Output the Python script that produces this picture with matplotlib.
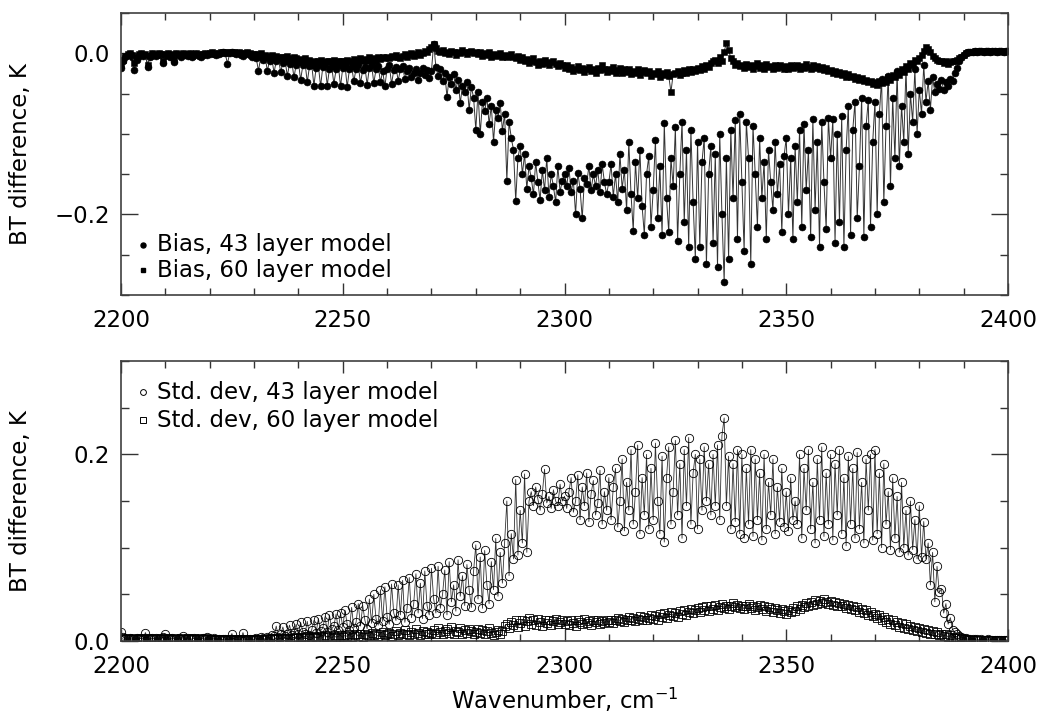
import numpy as np
import matplotlib
matplotlib.use('Agg')
import matplotlib.pyplot as plt
from matplotlib.ticker import MultipleLocator, FuncFormatter

plt.rcParams['font.family'] = ['DejaVu Sans']
plt.rcParams['font.size'] = 16.5

# channel grid, 0.5 cm-1 spacing
wn = np.arange(2200, 2400.25, 0.5)

# BT bias, mK (one row per 10 cm-1)
bias43_mk = [
    -18, -10, -5, -2, -1, -4, -21, -8, -3, -1, -3, -2, -17, -5, -1, -2, -3, -1, -2, -12,
    -3, -1, -4, -2, -11, -1, -2, -4, -1, -2, -3, -1, -5, -2, -1, -3, -4, -2, -1, -2,
    -1, 0, -1, -2, -1, 0, 1, 0, -13, 0, 1, 0, -1, 0, -2, -3, -1, 0, -2, -4,
    -3, -6, -22, -5, -8, -4, -22, -9, -6, -24, -10, -7, -23, -12, -9, -28, -13, -10, -30, -14,
    -11, -33, -15, -12, -36, -16, -14, -40, -18, -15, -41, -17, -13, -40, -19, -16, -38, -20, -15, -41,
    -18, -14, -42, -20, -16, -35, -19, -15, -37, -21, -17, -39, -18, -14, -37, -20, -16, -36, -22, -41,
    -19, -15, -38, -21, -17, -34, -20, -16, -32, -22, -18, -29, -25, -20, -33, -24, -18, -27, -21, -31,
    -22, 12, -17, -28, -20, -35, -25, -54, -30, -38, -26, -45, -33, -62, -40, -48, -36, -70, -42, -55,
    -95, -48, -100, -60, -72, -55, -88, -65, -110, -70, -80, -62, -96, -75, -158, -85, -105, -120, -183, -130,
    -115, -150, -125, -168, -140, -155, -175, -135, -160, -182, -145, -170, -130, -178, -150, -165, -185, -140, -172, -158,
    -150, -165, -142, -172, -158, -200, -148, -168, -205, -155, -162, -140, -170, -150, -165, -145, -172, -138, -160, -175,
    -160, -138, -178, -150, -185, -125, -168, -145, -195, -110, -175, -220, -135, -180, -120, -190, -225, -150, -128, -215,
    -170, -108, -205, -140, -225, -87, -180, -222, -130, -165, -92, -233, -150, -85, -210, -120, -240, -95, -185, -255,
    -110, -240, -135, -105, -262, -150, -115, -235, -125, -265, -100, -200, -284, -130, -255, -95, -180, -83, -230, -75,
    -160, -245, -85, -130, -262, -90, -150, -215, -105, -180, -135, -230, -120, -160, -195, -110, -175, -138, -222, -128,
    -105, -200, -130, -230, -115, -185, -95, -215, -88, -170, -120, -228, -82, -195, -110, -240, -85, -160, -218, -80,
    -130, -82, -235, -100, -210, -78, -240, -120, -65, -225, -95, -60, -205, -140, -55, -228, -90, -58, -215, -110,
    -60, -200, -75, -32, -185, -90, -28, -165, -55, -130, -22, -140, -65, -110, -18, -125, -50, -85, -20, -100,
    -45, -75, -15, -60, -35, -70, -30, -48, -38, -44, -33, -46, -36, -40, -32, -35, -25, -18, -10, -5,
    -2, 0, 1, 2, 2, 3, 2, 3, 3, 2, 3, 3, 2, 3, 3, 2, 3, 3, 2, 3,
    3]

bias60_mk = [
    -15, -8, -3, -1, 0, -2, -12, -4, -1, 0, -2, -1, -14, -3, 0, -1, -2, 0, -1, -9,
    -1, 0, -2, -1, -8, 0, -1, -2, 0, -1, -1, 0, -3, -1, 0, -1, -2, -1, 0, -1,
    0, 1, 0, -1, 0, 1, 2, 1, 0, 1, 2, 1, 0, 1, 0, -1, 0, 1, 0, -1,
    -1, -2, -1, 0, -3, -2, -4, -3, -2, -5, -3, -4, -6, -4, -5, -3, -6, -7, -5, -6,
    -8, -7, -9, -6, -10, -8, -11, -9, -12, -10, -8, -11, -13, -9, -10, -12, -8, -11, -10, -9,
    -10, -12, -8, -9, -11, -7, -10, -8, -6, -9, -7, -10, -5, -8, -6, -9, -4, -7, -5, -6,
    -4, -6, -3, -5, -2, -4, -6, -3, -1, -4, -2, 0, -3, -1, 2, -2, 0, 3, 1, 5,
    8, 12, 6, 3, 1, 4, 0, 2, -1, 3, 1, -2, 2, 0, 4, 1, -1, 2, 3, 0,
    2, -1, 1, -3, 0, -2, 1, -4, -1, -3, -2, 0, -4, -2, -5, -3, -1, -4, -6, -3,
    -8, -5, -10, -7, -12, -9, -6, -11, -14, -10, -13, -8, -12, -15, -11, -9, -13, -16, -12, -14,
    -18, -15, -20, -17, -22, -19, -16, -21, -18, -23, -20, -17, -22, -19, -24, -18, -21, -15, -20, -23,
    -19, -22, -17, -24, -21, -18, -25, -20, -23, -19, -26, -22, -24, -20, -27, -23, -21, -25, -22, -28,
    -24, -26, -22, -29, -25, -27, -23, -28, -48, -26, -24, -22, -27, -25, -21, -24, -20, -23, -19, -22,
    -18, -21, -16, -19, -14, -17, -12, -10, -8, -12, -5, -9, 2, 13, 4, -6, -10, -14, -12, -16,
    -15, -18, -13, -17, -14, -19, -16, -12, -18, -15, -20, -13, -17, -16, -19, -14, -18, -15, -17, -20,
    -16, -19, -14, -18, -17, -15, -20, -16, -18, -13, -17, -19, -15, -18, -16, -20, -17, -21, -18, -22,
    -21, -24, -22, -26, -23, -27, -25, -29, -26, -30, -28, -32, -29, -33, -31, -35, -33, -36, -34, -38,
    -36, -39, -35, -37, -33, -36, -30, -33, -27, -30, -24, -27, -20, -23, -16, -19, -12, -14, -8, -10,
    -6, -2, 3, 8, 5, 1, -3, -6, -8, -10, -9, -12, -10, -13, -11, -9, -10, -8, -6, -4,
    -2, 0, 1, 2, 2, 3, 2, 3, 3, 2, 3, 3, 2, 3, 3, 2, 3, 3, 2, 3,
    3]

# BT standard deviation, mK
std43_mk = [
    10, 4, 3, 2, 3, 2, 2, 3, 2, 3, 2, 9, 3, 2, 3, 2, 3, 2, 3, 4,
    7, 3, 2, 3, 2, 2, 3, 2, 5, 2, 3, 2, 2, 3, 2, 2, 2, 3, 2, 4,
    2, 2, 3, 2, 2, 1, 2, 2, 1, 2, 8, 1, 2, 1, 1, 9, 1, 2, 2, 1,
    2, 3, 2, 4, 3, 2, 4, 3, 6, 5, 16, 4, 7, 15, 5, 8, 17, 6, 9, 18,
    7, 20, 10, 8, 21, 6, 12, 22, 9, 24, 11, 14, 26, 10, 28, 13, 16, 29, 12, 30,
    15, 33, 18, 12, 36, 14, 20, 40, 16, 38, 22, 13, 45, 19, 50, 24, 17, 55, 21, 58,
    26, 18, 61, 30, 22, 60, 28, 65, 20, 35, 68, 25, 40, 72, 30, 62, 24, 75, 38, 28,
    78, 45, 30, 80, 35, 50, 76, 28, 85, 42, 60, 32, 87, 48, 70, 38, 82, 55, 36, 75,
    103, 45, 90, 35, 97, 60, 40, 85, 55, 110, 48, 95, 62, 105, 150, 70, 115, 88, 173, 92,
    140, 105, 179, 95, 150, 160, 145, 165, 152, 140, 158, 184, 148, 155, 142, 162, 150, 145, 168, 150,
    155, 142, 160, 175, 138, 150, 178, 130, 165, 145, 180, 128, 158, 172, 135, 148, 183, 125, 160, 140,
    175, 130, 165, 185, 122, 150, 195, 118, 170, 140, 205, 125, 160, 210, 115, 175, 135, 200, 120, 185,
    130, 212, 150, 115, 198, 106, 175, 208, 125, 160, 215, 135, 190, 110, 205, 145, 218, 125, 180, 200,
    120, 195, 140, 208, 150, 190, 135, 200, 145, 210, 130, 220, 239, 145, 198, 120, 190, 128, 205, 115,
    200, 110, 185, 125, 205, 112, 195, 130, 180, 108, 200, 120, 170, 135, 195, 115, 165, 128, 185, 122,
    160, 118, 175, 130, 150, 125, 200, 110, 185, 140, 205, 120, 170, 105, 195, 130, 208, 112, 180, 125,
    200, 108, 190, 135, 205, 115, 175, 102, 198, 125, 185, 110, 202, 120, 170, 105, 195, 140, 200, 108,
    205, 115, 180, 100, 190, 125, 160, 98, 175, 110, 155, 95, 170, 100, 140, 92, 150, 98, 130, 88,
    145, 90, 128, 88, 105, 60, 95, 42, 80, 52, 56, 30, 40, 18, 25, 12, 10, 7, 5, 4,
    3, 3, 2, 2, 2, 2, 2, 1, 2, 1, 1, 2, 1, 1, 1, 1, 1, 1, 1, 1,
    1]

std60_mk = [
    3, 2, 2, 3, 2, 2, 3, 2, 2, 3, 2, 2, 3, 2, 2, 3, 2, 2, 3, 2,
    2, 3, 2, 2, 3, 2, 2, 3, 2, 2, 3, 2, 2, 3, 2, 2, 3, 2, 2, 3,
    2, 2, 1, 2, 2, 1, 2, 1, 2, 2, 1, 2, 1, 2, 2, 1, 2, 1, 2, 1,
    2, 1, 2, 2, 1, 2, 2, 3, 2, 2, 3, 2, 3, 2, 3, 3, 2, 3, 3, 4,
    3, 4, 3, 4, 5, 3, 4, 5, 4, 3, 5, 4, 6, 4, 5, 3, 6, 4, 5, 6,
    4, 6, 5, 7, 4, 6, 8, 5, 7, 4, 8, 6, 5, 9, 6, 7, 5, 8, 10, 6,
    7, 9, 5, 8, 11, 6, 9, 7, 12, 8, 6, 10, 7, 13, 9, 6, 11, 8, 10, 7,
    9, 12, 8, 14, 10, 7, 11, 13, 9, 15, 8, 11, 10, 14, 7, 12, 9, 13, 11, 8,
    10, 13, 9, 12, 8, 11, 14, 9, 6, 10, 12, 8, 11, 16, 18, 14, 20, 17, 22, 15,
    19, 23, 16, 21, 25, 18, 22, 17, 24, 20, 16, 22, 19, 23, 17, 21, 24, 18, 20, 22,
    18, 21, 17, 23, 19, 16, 22, 20, 18, 24, 19, 21, 17, 22, 20, 23, 18, 21, 19, 22,
    20, 23, 19, 22, 25, 21, 24, 20, 23, 26, 22, 25, 21, 24, 27, 23, 26, 22, 25, 28,
    24, 27, 23, 29, 26, 30, 25, 28, 31, 27, 30, 26, 32, 29, 33, 28, 31, 34, 30, 33,
    35, 31, 36, 33, 38, 32, 37, 34, 39, 33, 36, 40, 35, 38, 34, 37, 41, 36, 39, 35,
    38, 34, 37, 40, 35, 38, 33, 36, 39, 34, 37, 32, 36, 34, 31, 35, 33, 30, 34, 32,
    29, 33, 31, 35, 32, 37, 34, 39, 36, 41, 38, 42, 39, 44, 40, 43, 41, 45, 42, 40,
    43, 39, 42, 38, 41, 37, 40, 35, 39, 34, 37, 33, 36, 31, 34, 30, 33, 28, 31, 27,
    29, 25, 28, 22, 26, 20, 24, 18, 22, 17, 20, 15, 19, 14, 18, 13, 16, 12, 15, 11,
    14, 10, 13, 9, 12, 8, 11, 7, 10, 6, 8, 5, 7, 4, 6, 3, 4, 3, 3, 2,
    2, 2, 1, 1, 1, 1, 1, 1, 1, 1, 1, 1, 1, 1, 1, 1, 1, 1, 1, 1,
    1]

bias43 = np.array(bias43_mk) / 1000.0
bias60 = np.array(bias60_mk) / 1000.0
std43 = np.array(std43_mk) / 1000.0
std60 = np.array(std60_mk) / 1000.0

# tick labels with a proper minus sign
fmt = FuncFormatter(lambda v, pos: ('%.1f' % v).replace('-', '\u2212'))

fig = plt.figure(figsize=(10.46, 7.15), dpi=100)
ax1 = fig.add_axes([121/1046, 1 - 295/715, 887/1046, 282/715])
ax2 = fig.add_axes([121/1046, 1 - 641/715, 887/1046, 280/715])

# top panel: bias
ax1.plot(wn, bias43, '-', color='0.2', lw=0.7, marker='o', ms=5.0,
         mfc='k', mec='k', mew=0.4)
ax1.plot(wn, bias60, '-', color='0.2', lw=0.7, marker='s', ms=4.4,
         mfc='k', mec='k', mew=0.4)
ax1.set_ylim(-0.3, 0.05)
ax1.yaxis.set_major_locator(MultipleLocator(0.2))
ax1.yaxis.set_minor_locator(MultipleLocator(0.05))
ax1.yaxis.set_major_formatter(fmt)

# bottom panel: standard deviation
ax2.plot(wn, std43, '-', color='0.2', lw=0.6, marker='o', ms=6.0,
         mfc='none', mec='k', mew=0.6)
ax2.plot(wn, std60, '-', color='0.2', lw=0.6, marker='s', ms=5.4,
         mfc='none', mec='k', mew=0.6)
ax2.set_ylim(0.0, 0.3)
ax2.yaxis.set_major_locator(MultipleLocator(0.2))
ax2.yaxis.set_minor_locator(MultipleLocator(0.05))
ax2.yaxis.set_major_formatter(fmt)
ax2.set_xlabel(r'Wavenumber, cm$^{\mathregular{-1}}$', labelpad=6)

for ax in (ax1, ax2):
    ax.set_xlim(2200, 2400)
    ax.xaxis.set_major_locator(MultipleLocator(50))
    ax.xaxis.set_minor_locator(MultipleLocator(10))
    ax.tick_params(which='both', direction='in', top=True, right=True,
                   color='0.2', width=1.0)
    ax.tick_params(axis='x', which='major', length=8.5, pad=10)
    ax.tick_params(axis='x', which='minor', length=5)
    ax.tick_params(axis='y', which='major', length=12, pad=8)
    ax.tick_params(axis='y', which='minor', length=5.8)
    for sp in ax.spines.values():
        sp.set_linewidth(1.2)
        sp.set_color('0.25')
    ax.set_ylabel('BT difference, K')
    ax.yaxis.set_label_coords(-0.1, 0.5)

# legends
def legend_row(ax, y_px, text, **mk):
    x0, x1 = 121, 1008
    if ax is ax1:
        y0, y1 = 295, 13
    else:
        y0, y1 = 641, 361
    ya = (y0 - y_px) / (y0 - y1)
    ax.plot([(143 - x0) / (x1 - x0)], [ya], transform=ax.transAxes,
            clip_on=False, ls='none', **mk)
    ax.text((157 - x0) / (x1 - x0), ya, text, transform=ax.transAxes,
            va='center', ha='left')

legend_row(ax1, 245, 'Bias, 43 layer model', marker='o', ms=3.6, mfc='k', mec='k')
legend_row(ax1, 270, 'Bias, 60 layer model', marker='s', ms=3.4, mfc='k', mec='k')
legend_row(ax2, 392, 'Std. dev, 43 layer model', marker='o', ms=4.2, mfc='none', mec='k', mew=0.7)
legend_row(ax2, 420, 'Std. dev, 60 layer model', marker='s', ms=4.2, mfc='none', mec='k', mew=0.7)

fig.savefig('out.png', dpi=100)
